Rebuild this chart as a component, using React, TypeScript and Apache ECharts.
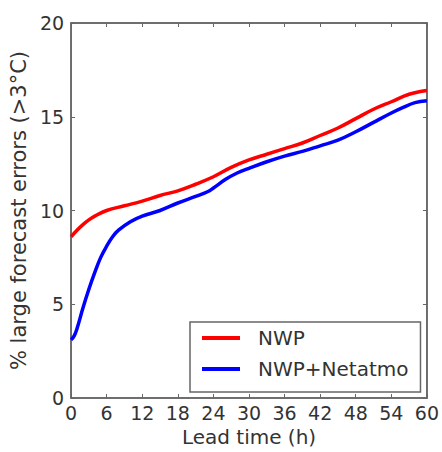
import React, { useEffect, useRef } from "react";
import * as echarts from "echarts";

const hoursNwp = [0, 1, 2, 3, 4, 6, 9, 12, 15, 18, 21, 24, 27, 30, 33, 36, 39, 42, 45, 48, 51, 54, 57, 60];
const nwp = [8.6, 8.95, 9.25, 9.5, 9.7, 10.0, 10.25, 10.5, 10.8, 11.05, 11.4, 11.8, 12.3, 12.7, 13.0, 13.3, 13.6, 14.0, 14.4, 14.9, 15.4, 15.8, 16.2, 16.4];

const hoursNet = [0, 0.5, 1, 2, 3, 4, 5, 6, 7, 8, 10, 12, 15, 18, 21, 23, 24, 26, 28, 30, 33, 36, 39, 42, 45, 48, 51, 54, 56, 58, 60];
const netatmo = [3.1, 3.3, 3.7, 4.8, 5.8, 6.7, 7.5, 8.1, 8.6, 8.95, 9.4, 9.7, 10.0, 10.4, 10.75, 11.0, 11.2, 11.65, 12.0, 12.25, 12.6, 12.9, 13.15, 13.45, 13.75, 14.2, 14.7, 15.2, 15.5, 15.75, 15.85];

const xTicks = [0, 6, 12, 18, 24, 30, 36, 42, 48, 54, 60];
const yTicks = [0, 5, 10, 15, 20];

const seriesNames = ["NWP", "NWP+Netatmo"];
const seriesColors = ["#ff0000", "#0000ff"];

export default function App() {
  const ref = useRef<HTMLDivElement>(null);
  useEffect(() => {
    if (!ref.current) return;
    const chart = echarts.init(ref.current, undefined, { renderer: "svg" });
    const font = "DejaVu Sans";
    const textColor = "#333";
    const mkLine = () => ({ show: true, onZero: false, lineStyle: { color: "#666", width: 1.5 } });
    const mkTick = () => ({ show: true, inside: true, length: 4, lineStyle: { color: "#666" } });
    chart.setOption({
      animation: false,
      backgroundColor: "#fff",
      grid: {
        left: 70,
        right: 11,
        top: 23,
        bottom: 53,
        show: true,
        borderColor: "#666",
        borderWidth: 1.5,
        backgroundColor: "transparent",
      },
      legend: {
        data: seriesNames.map((n, i) => ({ name: n, icon: "rect", itemStyle: { color: seriesColors[i] } })),
        orient: "vertical",
        left: 190,
        top: 322,
        padding: [6, 12, 13, 12],
        itemWidth: 38,
        itemHeight: 4,
        itemGap: 11,
        borderColor: "#666",
        borderWidth: 1.5,
        borderRadius: 0,
        backgroundColor: "#fff",
        textStyle: { fontFamily: font, fontSize: 20, color: textColor, padding: [0, 0, 0, 13] },
      },
      xAxis: [
        {
          type: "value",
          min: 0,
          max: 60,
          interval: 6,
          name: "Lead time (h)",
          nameLocation: "middle",
          nameGap: 29,
          nameTextStyle: { fontFamily: font, fontSize: 20, color: textColor },
          axisLine: mkLine(),
          axisTick: mkTick(),
          splitLine: { show: false },
          axisLabel: {
            fontFamily: font,
            fontSize: 19,
            color: textColor,
            margin: 5,
            customValues: xTicks,
            formatter: (v: number) => String(v),
          },
        },
        {
          type: "value",
          min: 0,
          max: 60,
          interval: 6,
          position: "top",
          axisLine: mkLine(),
          axisTick: mkTick(),
          axisLabel: { show: false },
          splitLine: { show: false },
        },
      ],
      yAxis: [
        {
          type: "value",
          min: 0,
          max: 20,
          interval: 5,
          name: "% large forecast errors (>3°C)",
          nameLocation: "middle",
          nameGap: 38,
          nameTextStyle: { fontFamily: font, fontSize: 21, color: textColor },
          axisLine: mkLine(),
          axisTick: mkTick(),
          splitLine: { show: false },
          axisLabel: {
            fontFamily: font,
            fontSize: 19,
            color: textColor,
            margin: 7,
            customValues: yTicks,
          },
        },
        {
          type: "value",
          min: 0,
          max: 20,
          interval: 5,
          position: "right",
          axisLine: mkLine(),
          axisTick: mkTick(),
          axisLabel: { show: false },
          splitLine: { show: false },
        },
      ],
      series: [
        {
          name: seriesNames[0],
          type: "line",
          data: hoursNwp.map((h, i) => [h, nwp[i]]),
          smooth: 0.4,
          showSymbol: false,
          lineStyle: { color: seriesColors[0], width: 3.5 },
          itemStyle: { color: seriesColors[0] },
        },
        {
          name: seriesNames[1],
          type: "line",
          data: hoursNet.map((h, i) => [h, netatmo[i]]),
          smooth: 0.4,
          showSymbol: false,
          lineStyle: { color: seriesColors[1], width: 3.5 },
          itemStyle: { color: seriesColors[1] },
        },
        {
          name: "frame",
          type: "line",
          xAxisIndex: 1,
          yAxisIndex: 1,
          data: [],
          silent: true,
        },
      ],
    });
    return () => chart.dispose();
  }, []);
  return <div ref={ref} style={{ width: 442, height: 452, position: "absolute", left: 0, top: 0 }} />;
}
